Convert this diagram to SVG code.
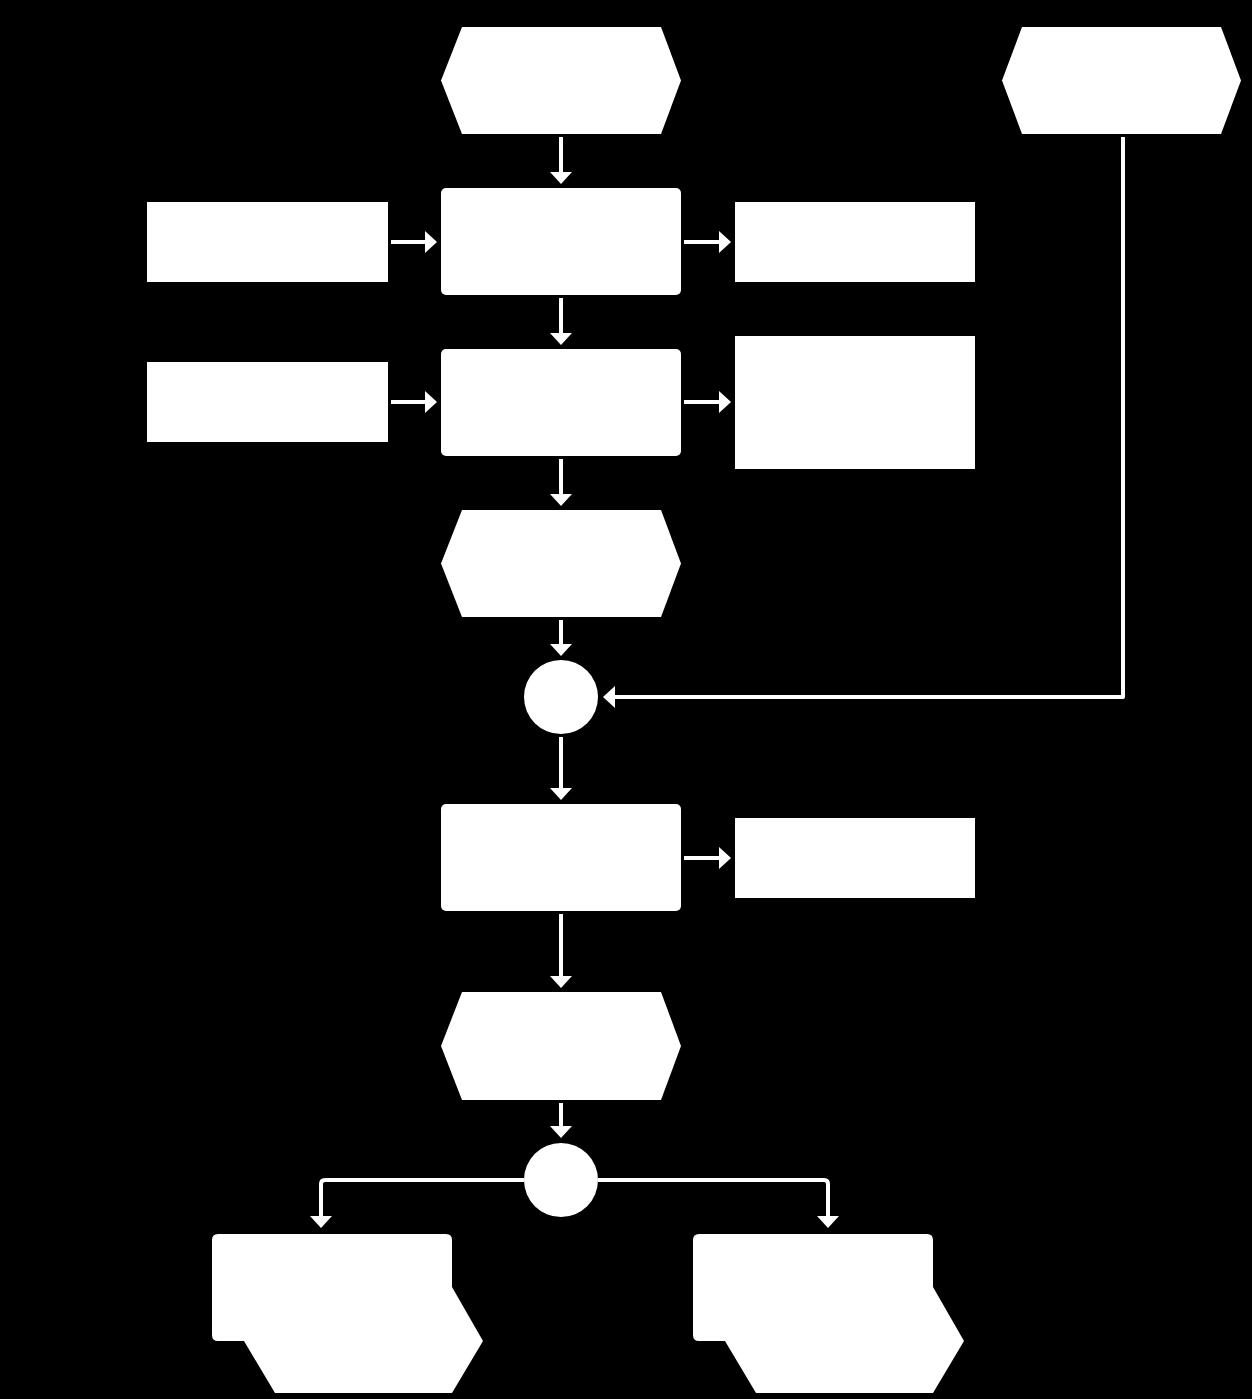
<svg xmlns="http://www.w3.org/2000/svg" width="1252" height="1399" viewBox="0 0 1252 1399">
<style>
.n{fill:#fff;stroke:none}
.c{fill:none;stroke:#fff;stroke-width:4;stroke-linejoin:round;marker-end:url(#ah)}
</style>
<defs>
<marker id="ah" markerUnits="userSpaceOnUse" markerWidth="12" markerHeight="22" refX="0" refY="11" orient="auto">
<path d="M0,0 L12,11 L0,22 Z" fill="#fff"/>
</marker>
</defs>
<rect x="0" y="0" width="1252" height="1399" fill="#000"/>
<g id="nodes">
<g id="hex1"><polygon class="n" points="462,27 661,27 681,80.5 661,134 462,134 441,80.5"/></g>
<g id="hex2"><polygon class="n" points="1022,27 1221,27 1241,80.5 1221,134 1022,134 1002,80.5"/></g>
<g id="left1"><rect class="n" x="147" y="202" width="241" height="80"/></g>
<g id="proc1"><rect class="n" x="441" y="188" width="240" height="107" rx="5"/></g>
<g id="right1"><rect class="n" x="735" y="202" width="240" height="80"/></g>
<g id="left2"><rect class="n" x="147" y="362" width="241" height="80"/></g>
<g id="proc2"><rect class="n" x="441" y="349" width="240" height="107" rx="5"/></g>
<g id="right2"><rect class="n" x="735" y="336" width="240" height="133"/></g>
<g id="hex3"><polygon class="n" points="462,510 661,510 681,563.5 661,617 462,617 441,563.5"/></g>
<g id="circle1"><circle class="n" cx="561" cy="697" r="37"/></g>
<g id="proc3"><rect class="n" x="441" y="804" width="240" height="107" rx="5"/></g>
<g id="right3"><rect class="n" x="735" y="818" width="240" height="80"/></g>
<g id="hex4"><polygon class="n" points="462,992 661,992 681,1046 661,1100 462,1100 441,1046"/></g>
<g id="circle2"><circle class="n" cx="561" cy="1180" r="37"/></g>
<g id="out1"><path class="n" d="M218,1234 H446 Q452,1234 452,1240 V1287 L483,1341 L452,1393 H275 L244,1341 H218 Q212,1341 212,1335 V1240 Q212,1234 218,1234 Z"/></g>
<g id="out2"><path class="n" d="M699,1234 H927 Q933,1234 933,1240 V1287 L964,1341 L933,1393 H756 L725,1341 H699 Q693,1341 693,1335 V1240 Q693,1234 699,1234 Z"/></g>
</g>
<g id="connectors">
<path class="c" d="M561,137 V172"/>
<path class="c" d="M391,242 H425"/>
<path class="c" d="M684,242 H719"/>
<path class="c" d="M561,298 V333"/>
<path class="c" d="M391,402 H425"/>
<path class="c" d="M684,402 H719"/>
<path class="c" d="M561,459 V494"/>
<path class="c" d="M561,620 V644"/>
<path class="c" d="M1123,137 V697 H615"/>
<path class="c" d="M561,737 V788"/>
<path class="c" d="M684,858 H719"/>
<path class="c" d="M561,914 V976"/>
<path class="c" d="M561,1103 V1126"/>
<path class="c" d="M524,1180 H325 Q321,1180 321,1184 V1216"/>
<path class="c" d="M598,1180 H824 Q828,1180 828,1184 V1216"/>
</g>
</svg>
